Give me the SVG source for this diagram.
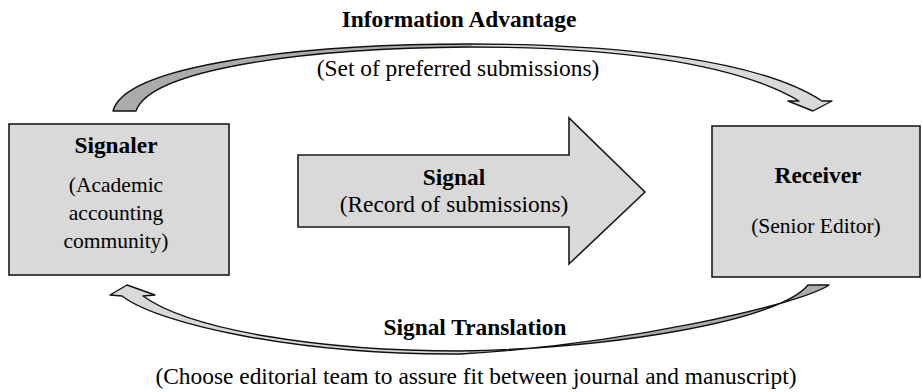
<svg xmlns="http://www.w3.org/2000/svg" width="922" height="392" viewBox="0 0 922 392">
  <defs>
    <linearGradient id="gTop" gradientUnits="userSpaceOnUse" x1="113" y1="0" x2="832" y2="0">
      <stop offset="0" stop-color="#ababab"/>
      <stop offset="0.5" stop-color="#ababab"/>
      <stop offset="0.5" stop-color="#d9d9d9"/>
      <stop offset="1" stop-color="#d9d9d9"/>
    </linearGradient>
    <linearGradient id="gBot" gradientUnits="userSpaceOnUse" x1="110" y1="0" x2="829" y2="0">
      <stop offset="0" stop-color="#d9d9d9"/>
      <stop offset="0.5" stop-color="#d9d9d9"/>
      <stop offset="0.5" stop-color="#ababab"/>
      <stop offset="1" stop-color="#ababab"/>
    </linearGradient>
  </defs>
  <style>
    .box { fill: #d9d9d9; stroke: #1a1a1a; stroke-width: 1.6; }
    .conn { stroke: #111; stroke-width: 1.4; stroke-linejoin: round; }
    text { font-family: "Liberation Serif", "Times New Roman", serif; fill: #000; text-anchor: middle; }
    .b { font-weight: bold; font-size: 23.4px; }
    .r { font-size: 23.4px; }
    .s { font-size: 21.5px; }
  </style>

  <g id="connectors">
    <path id="info-advantage-arrow" class="conn" fill="url(#gTop)"
      d="M113,111 C125,65 300,44 470,44 C620,44 760,60 822,101 L832,101 L813,111 L788,101 L799,101 C730,60 600,47 470,47 C300,48 150,70 136,111 Z"/>
    <path id="signal-translation-arrow" class="conn" fill="url(#gBot)"
      d="M808,285 L829,285 C800,305 620,345 460,354 C300,355 160,325 122,296 L110,295 L127,285 L155,295 L143,296 C190,330 320,351 460,351 C620,348 780,320 808,285 Z"/>
    <path id="signal-arrow" class="box" d="M298,155 L569,155 L569,118 L645,192 L569,264 L569,227 L298,227 Z"/>
  </g>

  <g id="signaler">
    <rect class="box" x="9" y="124" width="220" height="151"/>
    <text class="b" x="116" y="153">Signaler</text>
    <text class="s" x="116" y="192">(Academic</text>
    <text class="s" x="116" y="220">accounting</text>
    <text class="s" x="116" y="248">community)</text>
  </g>

  <g id="receiver">
    <rect class="box" x="712" y="126" width="208" height="151"/>
    <text class="b" x="818" y="183">Receiver</text>
    <text class="s" x="816" y="233">(Senior Editor)</text>
  </g>

  <g id="signal-label">
    <text class="b" x="454" y="185">Signal</text>
    <text class="r" x="454" y="212">(Record of submissions)</text>
  </g>

  <g id="info-advantage-label">
    <text class="b" x="459" y="27">Information Advantage</text>
    <text class="r" x="458" y="76">(Set of preferred submissions)</text>
  </g>

  <g id="signal-translation-label">
    <text class="b" x="475" y="335">Signal Translation</text>
    <text class="r" x="476" y="384">(Choose editorial team to assure fit between journal and manuscript)</text>
  </g>
</svg>
